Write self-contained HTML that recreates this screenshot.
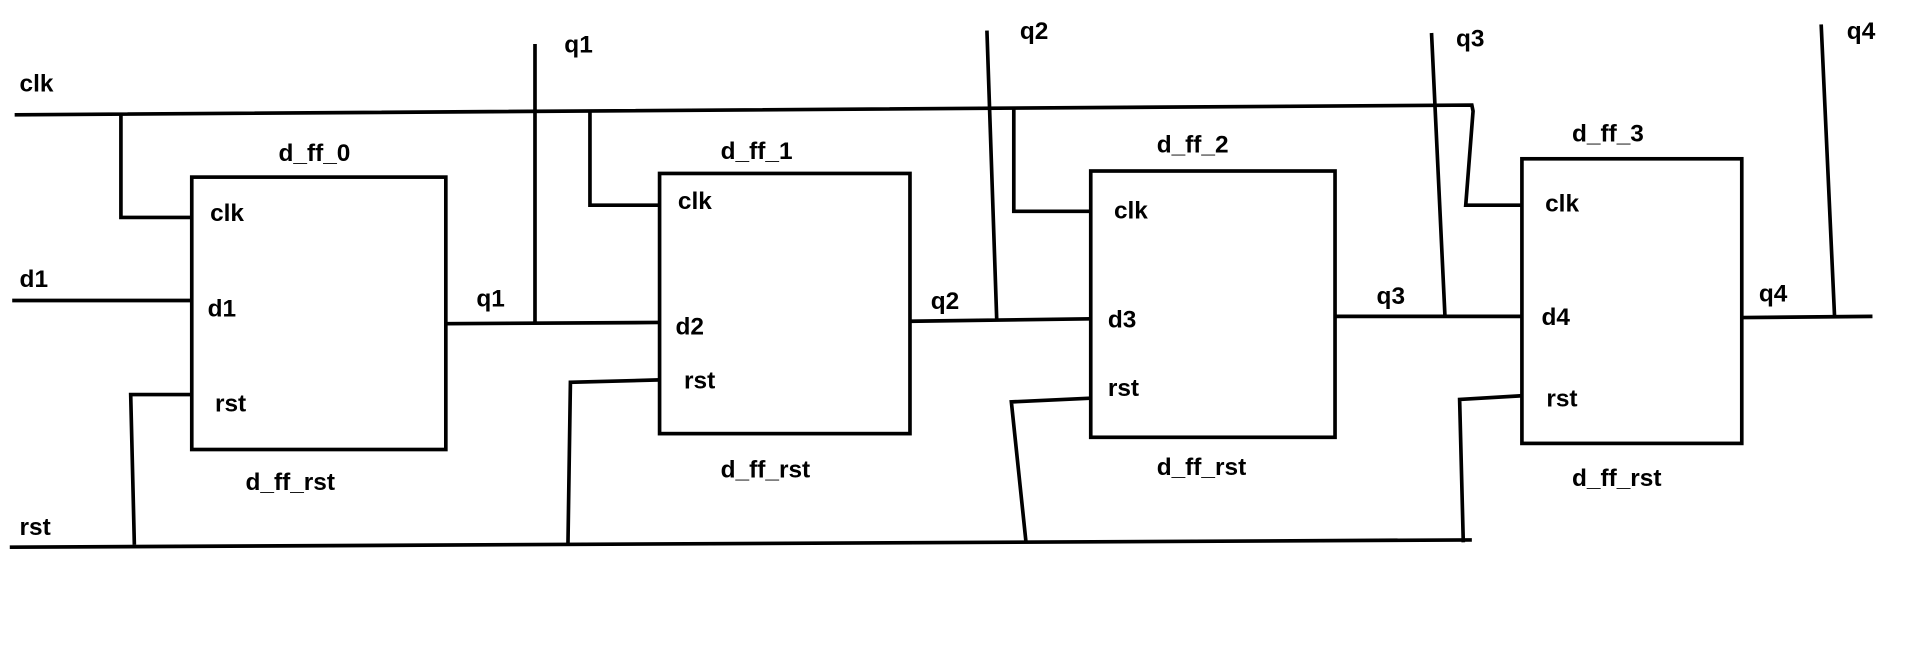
<!DOCTYPE html>
<html><head><meta charset="utf-8"><style>
html,body{margin:0;padding:0;background:#fff;}
svg{display:block;}
text{font-family:"Liberation Sans","Noto Sans CJK SC",sans-serif;font-weight:bold;font-size:20px;fill:#000;}
</style></head><body>
<svg width="1914" height="648" viewBox="0 0 1567 530.5" preserveAspectRatio="none">
<g stroke="#000" stroke-width="3" fill="none">
<path d="M12 94 L1205 86 L1206 91 L1200 168 L1246 168"/>
<path d="M99 93 L99 178 L157 178"/>
<path d="M483 91 L483 168 L540 168"/>
<path d="M830 89 L830 173 L893 173"/>
<path d="M8 448 L1205 442"/>
<path d="M157 323 L107 323 L110 446"/>
<path d="M540 311 L467 313 L465 445"/>
<path d="M893 326 L828 329 L840 444"/>
<path d="M1246 324 L1195 327 L1198 444"/>
<path d="M10 246 L157 246"/>
<path d="M365 265 L540 264 M438 36 L438 265"/>
<path d="M745 263 L893 261 M808 25 L816 261"/>
<path d="M1093 259 L1246 259 M1172 27 L1183 259"/>
<path d="M1426 260 L1533 259 M1491 20 L1502 260"/>
<rect x="157" y="145" width="208" height="223"/>
<rect x="540" y="142" width="205" height="213"/>
<rect x="893" y="140" width="200" height="218"/>
<rect x="1246" y="130" width="180" height="233"/>
</g>
<g>
<text x="16" y="75">clk</text>
<text x="16" y="235">d1</text>
<text x="16" y="438">rst</text>
<text x="462" y="43">q1</text>
<text x="835" y="32">q2</text>
<text x="1192" y="38">q3</text>
<text x="1512" y="32">q4</text>
<text x="228" y="132">d_ff_0</text>
<text x="590" y="130">d_ff_1</text>
<text x="947" y="125">d_ff_2</text>
<text x="1287" y="116">d_ff_3</text>
<text x="201" y="401">d_ff_rst</text>
<text x="590" y="391">d_ff_rst</text>
<text x="947" y="389">d_ff_rst</text>
<text x="1287" y="398">d_ff_rst</text>
<text x="172" y="181">clk</text>
<text x="170" y="259">d1</text>
<text x="176" y="337">rst</text>
<text x="555" y="171">clk</text>
<text x="553" y="274">d2</text>
<text x="560" y="318">rst</text>
<text x="912" y="179">clk</text>
<text x="907" y="268">d3</text>
<text x="907" y="324">rst</text>
<text x="1265" y="173">clk</text>
<text x="1262" y="266">d4</text>
<text x="1266" y="333">rst</text>
<text x="390" y="251">q1</text>
<text x="762" y="253">q2</text>
<text x="1127" y="249">q3</text>
<text x="1440" y="247">q4</text>
</g>
</svg>
</body></html>
